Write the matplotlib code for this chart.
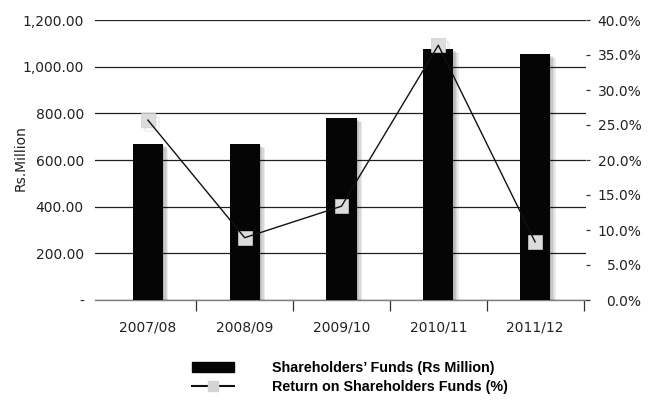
import matplotlib
matplotlib.use("Agg")
import matplotlib.pyplot as plt
import matplotlib.patheffects as pe
from matplotlib.lines import Line2D
from matplotlib.patches import Patch
from matplotlib.ticker import FuncFormatter, FixedLocator

years = ["2007/08", "2008/09", "2009/10", "2010/11", "2011/12"]
funds = [668, 668, 780, 1076, 1054]          # Rs Million
returns = [25.7, 8.9, 13.4, 36.4, 8.3]       # %
fund_ticks = [0, 200, 400, 600, 800, 1000, 1200]
return_ticks = [0, 5, 10, 15, 20, 25, 30, 35, 40]

plt.rcParams["font.family"] = ["DejaVu Sans"]

fig = plt.figure(figsize=(6.48, 4.05), dpi=100)
W, H = 648, 405
ax = fig.add_axes([95 / W, 1 - 300 / H, (586 - 95) / W, 280 / H])
ax2 = ax.twinx()

x = list(range(len(years)))

# soft drop shadow built from a few stacked offsets
bar_shadow = [pe.SimplePatchShadow(offset=(d, -d * 0.7), shadow_rgbFace="#000000", alpha=0.08)
              for d in (1, 2, 3, 4)] + [pe.Normal()]
bars = ax.bar(x, funds, width=0.31, color="#050505", zorder=3)
for b in bars:
    b.set_path_effects(bar_shadow)

ax.set_ylim(0, 1200)
ax.set_xlim(-0.5 - 4.5 / 97, 4.5 + 2.5 / 97)
ax.set_yticks(fund_ticks)
ax.yaxis.set_major_formatter(FuncFormatter(lambda v, p: "-" if v == 0 else f"{v:,.2f}"))
ax.grid(axis="y", color="#202020", linewidth=0.9, zorder=0)
ax.set_axisbelow(True)
ax.tick_params(axis="y", length=0, pad=8, labelsize=10, labelcolor="#222222")

ax.set_xticks(x)
ax.set_xticklabels(years)
ax.xaxis.set_minor_locator(FixedLocator([0.5, 1.5, 2.5, 3.5, 4.5]))
ax.tick_params(axis="x", which="major", length=0, pad=15, labelsize=10, labelcolor="#222222")
ax.tick_params(axis="x", which="minor", length=8, width=0.9, color="#333333", direction="out")

for s in ["top", "left", "right"]:
    ax.spines[s].set_visible(False)
ax.spines["bottom"].set_color("#808080")
ax.spines["bottom"].set_linewidth(1.0)
for s in ["top", "left", "right", "bottom"]:
    ax2.spines[s].set_visible(False)

fig.text(21 / W, 1 - 158 / H, "Rs.Million", rotation=90, ha="center", va="center",
         fontsize=10, color="#222222")

ax2.set_ylim(0, 40)
ax2.set_yticks(return_ticks)
ax2.yaxis.set_major_formatter(FuncFormatter(lambda v, p: f"{v:.1f}%"))
ax2.tick_params(axis="y", length=3, width=0.9, color="#333333", direction="out",
                pad=37, labelsize=10, labelcolor="#222222")
for lbl in ax2.get_yticklabels():
    lbl.set_horizontalalignment("right")

marker_shadow = [pe.SimpleLineShadow(offset=(d, -d), shadow_color="#000000", alpha=0.07)
                 for d in (1, 2, 3)] + [pe.Normal()]
ax2.plot(x, returns, linestyle="none", marker="s", markersize=10,
         markerfacecolor="#dcdcdc", markeredgecolor="#d0d0d0", markeredgewidth=0.5,
         zorder=4, path_effects=marker_shadow)
ax2.plot(x, returns, color="#111111", linewidth=1.0, zorder=5)

handles = [
    Patch(facecolor="#050505", edgecolor="#050505"),
    Line2D([0], [0], color="#111111", linewidth=1.5, marker="s", markersize=7,
           markerfacecolor="#d4d4d4", markeredgecolor="#d4d4d4"),
]
labels = ["Shareholders\u2019 Funds (Rs Million)", "Return on Shareholders Funds (%)"]
fig.legend(handles, labels, loc="upper left", bbox_to_anchor=(185 / W, 1 - 354 / H),
           frameon=False, prop={"weight": "bold", "size": 10.3, "family": "Liberation Sans"},
           handlelength=2.94, handletextpad=2.66, labelspacing=0.35, borderpad=0)

fig.savefig("out.png", dpi=100)
